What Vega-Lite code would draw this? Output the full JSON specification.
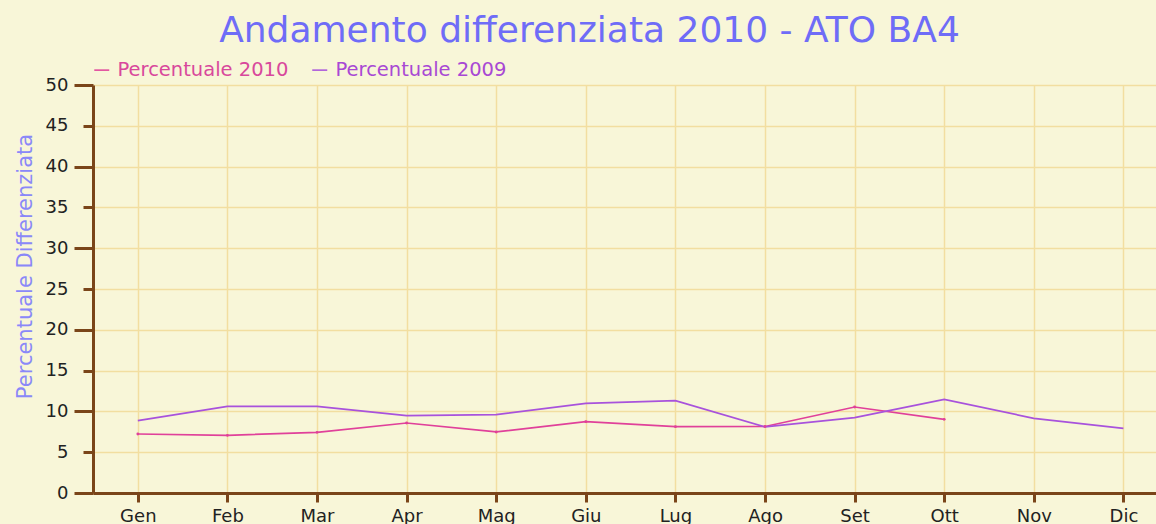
{
  "$schema": "https://vega.github.io/schema/vega-lite/v6.json",
  "width": 1063,
  "height": 408,
  "autosize": {"type": "none"},
  "padding": {"left": 93, "top": 85, "right": 0, "bottom": 31},
  "background": "#f8f6d8",
  "title": {
    "text": "Andamento differenziata 2010 - ATO BA4",
    "color": "#6f6cf7",
    "fontSize": 36,
    "font": "DejaVu Sans",
    "fontWeight": "normal",
    "anchor": "middle",
    "frame": "group",
    "dx": -35,
    "offset": 10
  },
  "config": {
    "view": {"stroke": null},
    "font": "DejaVu Sans"
  },
  "data": {
    "values": [
      {"mese": "Gen", "serie": "Percentuale 2010", "valore": 7.23},
      {"mese": "Feb", "serie": "Percentuale 2010", "valore": 7.07},
      {"mese": "Mar", "serie": "Percentuale 2010", "valore": 7.44},
      {"mese": "Apr", "serie": "Percentuale 2010", "valore": 8.58},
      {"mese": "Mag", "serie": "Percentuale 2010", "valore": 7.48},
      {"mese": "Giu", "serie": "Percentuale 2010", "valore": 8.74},
      {"mese": "Lug", "serie": "Percentuale 2010", "valore": 8.13},
      {"mese": "Ago", "serie": "Percentuale 2010", "valore": 8.15},
      {"mese": "Set", "serie": "Percentuale 2010", "valore": 10.54},
      {"mese": "Ott", "serie": "Percentuale 2010", "valore": 9.03},
      {"mese": "Gen", "serie": "Percentuale 2009", "valore": 8.86},
      {"mese": "Feb", "serie": "Percentuale 2009", "valore": 10.62},
      {"mese": "Mar", "serie": "Percentuale 2009", "valore": 10.62},
      {"mese": "Apr", "serie": "Percentuale 2009", "valore": 9.48},
      {"mese": "Mag", "serie": "Percentuale 2009", "valore": 9.6},
      {"mese": "Giu", "serie": "Percentuale 2009", "valore": 10.99},
      {"mese": "Lug", "serie": "Percentuale 2009", "valore": 11.31},
      {"mese": "Ago", "serie": "Percentuale 2009", "valore": 8.1},
      {"mese": "Set", "serie": "Percentuale 2009", "valore": 9.23},
      {"mese": "Ott", "serie": "Percentuale 2009", "valore": 11.48},
      {"mese": "Nov", "serie": "Percentuale 2009", "valore": 9.15},
      {"mese": "Dic", "serie": "Percentuale 2009", "valore": 7.93}
    ]
  },
  "encoding": {
    "x": {
      "field": "mese",
      "type": "ordinal",
      "sort": ["Gen", "Feb", "Mar", "Apr", "Mag", "Giu", "Lug", "Ago", "Set", "Ott", "Nov", "Dic"],
      "scale": {"type": "point", "padding": 0.432, "align": 0.579},
      "axis": {
        "title": null,
        "labelAngle": 0,
        "labelFontSize": 18,
        "labelColor": "#222222",
        "labelPadding": 5,
        "domainColor": "#7a4519",
        "domainWidth": 3,
        "tickColor": "#7a4519",
        "tickWidth": 3,
        "tickSize": 9,
        "grid": true,
        "gridColor": "#f2dea0",
        "gridWidth": 1.5
      }
    },
    "y": {
      "field": "valore",
      "type": "quantitative",
      "scale": {"domain": [0, 50]},
      "axis": {
        "values": [0, 5, 10, 15, 20, 25, 30, 35, 40, 45, 50],
        "title": "Percentuale Differenziata",
        "titleColor": "#8a88f8",
        "titleFontSize": 21,
        "titleFontWeight": "normal",
        "titleAngle": 270,
        "titleX": -68,
        "titleY": 181,
        "titleAlign": "center",
        "titleBaseline": "middle",
        "labelFontSize": 18,
        "labelColor": "#222222",
        "labelPadding": {"condition": {"test": "datum.value % 10 === 0", "value": 6}, "value": 15},
        "domainColor": "#7a4519",
        "domainWidth": 3,
        "tickColor": "#7a4519",
        "tickWidth": 3,
        "tickSize": {"condition": {"test": "datum.value % 10 === 0", "value": 19}, "value": 10},
        "grid": true,
        "gridColor": "#f2dea0",
        "gridWidth": 1.5
      }
    },
    "color": {
      "field": "serie",
      "type": "nominal",
      "scale": {
        "domain": ["Percentuale 2010", "Percentuale 2009"],
        "range": ["#e0409a", "#a852dc"]
      },
      "legend": {
        "title": null,
        "orient": "none",
        "direction": "horizontal",
        "legendX": -1,
        "legendY": -25,
        "symbolType": "stroke",
        "symbolSize": 225,
        "symbolStrokeWidth": 1.5,
        "labelFontSize": 19.5,
        "labelLimit": 400,
        "labelOffset": 6,
        "columnPadding": 20,
        "encode": {
          "labels": {
            "update": {
              "fill": {"signal": "datum.label === 'Percentuale 2010' ? '#d8489c' : '#a848d4'"}
            }
          }
        }
      }
    }
  },
  "layer": [
    {
      "mark": {"type": "line", "strokeWidth": 1.7}
    },
    {
      "transform": [{"filter": "datum.serie === 'Percentuale 2010'"}],
      "mark": {"type": "point", "filled": true, "size": 8, "opacity": 1},
      "encoding": {"color": {"field": "serie", "type": "nominal", "legend": null}}
    }
  ]
}
